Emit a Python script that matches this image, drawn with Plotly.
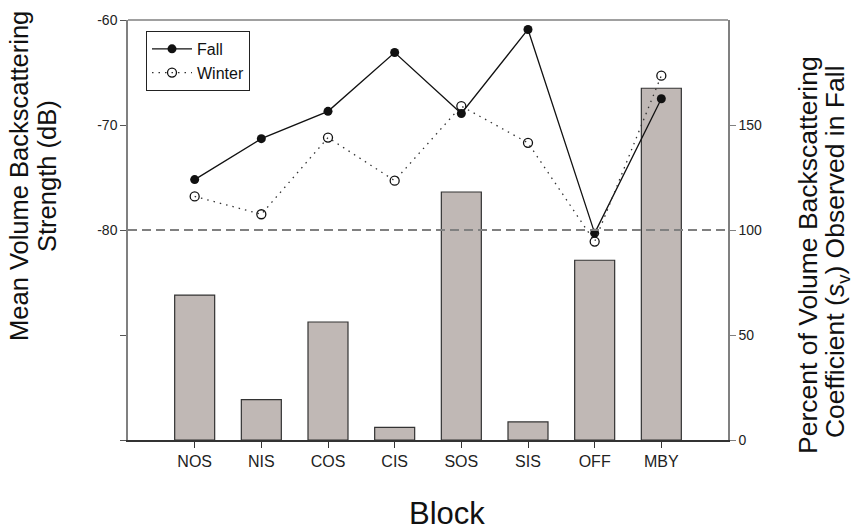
import plotly.graph_objects as go

# Blocks surveyed
blocks = ["NOS", "NIS", "COS", "CIS", "SOS", "SIS", "OFF", "MBY"]

# Mean volume backscattering strength (dB)
fall_db = [-75.2, -71.3, -68.7, -63.1, -68.9, -60.9, -80.3, -67.5]
winter_db = [-76.8, -78.5, -71.2, -75.3, -68.2, -71.7, -81.1, -65.3]

# Percent of fall s_v observed in winter (bars, right axis)
percent_sv = [69.0, 19.2, 56.2, 6.0, 118.1, 8.6, 85.6, 167.5]

# Reference level: 100 % on the right axis equals -80 dB on the left
reference_db = -80

left_ticks = [-100, -90, -80, -70, -60]
left_ticktext = ["", "", "-80", "-70", "-60"]
right_ticks = [0, 50, 100, 150]

FONT = "Arial, Liberation Sans, sans-serif"
x_idx = list(range(len(blocks)))

fig = go.Figure()

fig.add_trace(go.Bar(
    x=x_idx, y=percent_sv, yaxis="y", width=0.6,
    marker=dict(color="#c0b8b5", line=dict(color="#333333", width=1.2)),
    showlegend=False,
))

fig.add_trace(go.Scatter(
    x=x_idx, y=fall_db, yaxis="y2", name="Fall", mode="lines+markers",
    line=dict(color="#111111", width=1.3),
    marker=dict(symbol="circle", size=9, color="#111111"),
))

fig.add_trace(go.Scatter(
    x=x_idx, y=winter_db, yaxis="y2", name="Winter", mode="lines+markers",
    line=dict(color="#333333", width=1.3, dash="1.5px,5px"),
    marker=dict(symbol="circle-open", size=9, color="#111111",
                line=dict(width=1.3, color="#111111")),
))

# dashed reference line at -80 dB / 100 %
fig.add_shape(type="line", xref="paper", yref="y2", x0=0, x1=1,
              y0=reference_db, y1=reference_db, layer="above",
              line=dict(color="#808080", width=2, dash="9px,5px"))

# top frame edge
fig.add_shape(type="line", xref="paper", yref="paper", x0=0, x1=1, y0=1, y1=1,
              line=dict(color="#808080", width=1.5))


def title_line(text, x, y, size):
    return dict(text=text, xref="paper", yref="paper", x=x, y=y,
                xanchor="center", yanchor="middle", textangle=-90,
                showarrow=False, font=dict(size=size, color="#111111"))


fig.update_layout(
    width=854, height=532,
    margin=dict(l=128, r=126, t=20, b=92),
    paper_bgcolor="white", plot_bgcolor="white",
    font=dict(family=FONT, size=14, color="#222222"),
    xaxis=dict(
        range=[-1, 8], tickmode="array", tickvals=x_idx, ticktext=blocks,
        showline=True, linecolor="#333333", linewidth=2,
        ticks="outside", ticklen=6, tickcolor="#333333", tickwidth=1,
        showgrid=False, zeroline=False,
        tickfont=dict(size=16, color="#222222"),
    ),
    yaxis=dict(
        side="right", range=[0, 200], tickmode="array", tickvals=right_ticks,
        showline=True, linecolor="#808080", linewidth=1.5,
        ticks="outside", ticklen=6, tickcolor="#808080",
        showgrid=False, zeroline=False,
        tickfont=dict(size=14, color="#222222"),
    ),
    yaxis2=dict(
        overlaying="y", side="left", range=[-100, -60], tickmode="array",
        tickvals=left_ticks, ticktext=left_ticktext,
        showline=True, linecolor="#808080", linewidth=1.5,
        ticks="outside", ticklen=6, tickcolor="#555555",
        showgrid=False, zeroline=False,
        tickfont=dict(size=14, color="#222222"),
    ),
    legend=dict(
        x=0.03, y=0.974, xanchor="left", yanchor="top",
        bgcolor="white", bordercolor="#222222", borderwidth=1,
        font=dict(size=16, color="#111111"),
        itemwidth=40, tracegroupgap=0,
    ),
    annotations=[
        title_line("Mean Volume Backscattering", -0.1817, 0.6286, 25.5),
        title_line("Strength (dB)", -0.135, 0.6286, 25.5),
        title_line("Percent of Volume Backscattering", 1.1333, 0.4405, 26.5),
        title_line("Coefficient (<i>s</i><sub>v</sub>) Observed in Fall", 1.1817, 0.4476, 26.5),
        dict(text="Block", xref="paper", yref="paper", x=0.5317, y=-0.176,
             xanchor="center", yanchor="middle", showarrow=False,
             font=dict(size=31, color="#111111")),
    ],
)

fig.write_html("out.html")
